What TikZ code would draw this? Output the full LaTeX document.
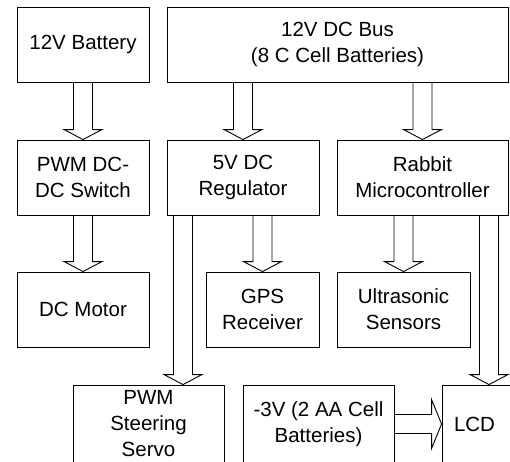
\documentclass[tikz,border=0pt]{standalone}
\usepackage{fontspec}
\setmainfont{Liberation Sans}
\usetikzlibrary{calc}
\tikzset{
  blk/.style={draw=black, line width=0.9pt, rectangle, inner sep=0pt, align=center,
    font=\fontsize{20.5}{26}\selectfont},
  blkarrow/.style={draw=black, line width=0.9pt, line join=miter},
}
\newcommand\vblk[3]{%
  \draw[blkarrow] let \p1=($(#2.north)+(#3,0)$), \p2=(#1.south) in
    (\x1-9.5,\y2) -- (\x1-9.5,\y1+10) -- (\x1-19,\y1+10) -- (\x1,\y1)
    -- (\x1+19,\y1+10) -- (\x1+9.5,\y1+10) -- (\x1+9.5,\y2);}
\newcommand\hblk[2]{%
  \draw[blkarrow] let \p1=(#1.east), \p2=(#2.west) in
    (\x1,\y1+9.5) -- (\x2-10,\y1+9.5) -- (\x2-10,\y1+24.5) -- (\x2,\y1)
    -- (\x2-10,\y1-24.5) -- (\x2-10,\y1-9.5) -- (\x1,\y1-9.5);}
\begin{document}
\begin{tikzpicture}[x=1pt,y=1pt]
\useasboundingbox (0,0) rectangle (510,-461);
\clip (0,0) rectangle (510,-461);
\node[blk, minimum width=132pt, minimum height=75pt] (bat) at (83,-44.5) {12V Battery};
\node[blk, minimum width=341pt, minimum height=75pt] (bus) at (337.5,-44.5) {12V DC Bus\\(8 C Cell Batteries)};
\node[blk, minimum width=132pt, minimum height=75pt] (pwm) at (83,-177.5) {PWM DC-\\DC Switch};
\node[blk, minimum width=152pt, minimum height=75pt] (reg) at (243,-177.5) {5V DC\\Regulator};
\node[blk, minimum width=171pt, minimum height=75pt] (rab) at (422.5,-177.5) {Rabbit\\Microcontroller};
\node[blk, minimum width=132pt, minimum height=75pt] (mot) at (83,-309.5) {DC Motor};
\node[blk, minimum width=113pt, minimum height=75pt] (gps) at (262.5,-309.5) {GPS\\Receiver};
\node[blk, minimum width=133pt, minimum height=75pt] (ult) at (403.5,-309.5) {Ultrasonic\\Sensors};
\node[blk, minimum width=151pt, minimum height=78pt] (servo) at (148.5,-424) {PWM\\Steering\\Servo};
\node[blk, minimum width=151pt, minimum height=78pt] (neg) at (318.5,-424) {-3V (2 AA Cell\\Batteries)};
\node[blk, text width=48pt, inner xsep=12pt, align=left, minimum height=78pt] (lcd) at (478,-424) {LCD};
\vblk{bat}{pwm}{0}
\vblk{bus}{reg}{0}
\vblk{bus}{rab}{0}
\vblk{pwm}{mot}{0}
\vblk{reg}{gps}{0}
\vblk{rab}{ult}{0}
\vblk{reg}{servo}{34.5}
\vblk{rab}{lcd}{11}
\hblk{neg}{lcd}
\end{tikzpicture}
\end{document}
